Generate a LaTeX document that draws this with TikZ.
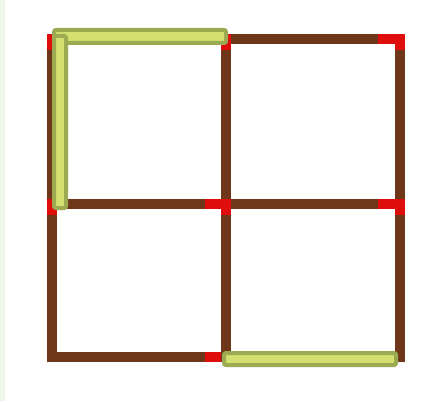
\documentclass[tikz,border=0pt]{standalone}
\definecolor{stickc}{HTML}{6E3719}
\definecolor{headc}{HTML}{DF0E0C}
\definecolor{hlfill}{HTML}{D3E06F}
\definecolor{hldraw}{HTML}{9CAA52}
\definecolor{stripc}{HTML}{EFF6EA}
\tikzset{
  stick/.style={fill=stickc},
  head/.style={fill=headc},
  hl/.style={fill=hlfill, draw=hldraw, line width=4pt, rounded corners=2pt},
}
\begin{document}
\begin{tikzpicture}[x=1pt,y=-1pt]
\useasboundingbox (0,0) rectangle (443,401);
\fill[white] (0,0) rectangle (443,401);
\fill[stripc] (0,0) rectangle (5,401);
% vertical sticks (head at top)
\foreach \x in {47,221,395}{
  \fill[stick] (\x,34) rectangle (\x+10,199);
  \fill[stick] (\x,199) rectangle (\x+10,362);
}
% horizontal sticks (head at right)
\foreach \y in {34,199,352}{
  \fill[stick] (57,\y) rectangle (221,\y+10);
  \fill[head] (205,\y) rectangle (221,\y+10);
  \fill[stick] (231,\y) rectangle (395,\y+10);
  \fill[head] (378,\y) rectangle (395,\y+10);
}
% heads of vertical sticks
\foreach \x in {47,221,395}{
  \fill[head] (\x,34) rectangle (\x+10,50);
  \fill[head] (\x,199) rectangle (\x+10,215);
}
% highlighted sticks
\draw[hl] (54,30) rectangle (226,43);
\draw[hl] (54,36) rectangle (66,208);
\draw[hl] (224,353) rectangle (396,365);
\end{tikzpicture}
\end{document}
